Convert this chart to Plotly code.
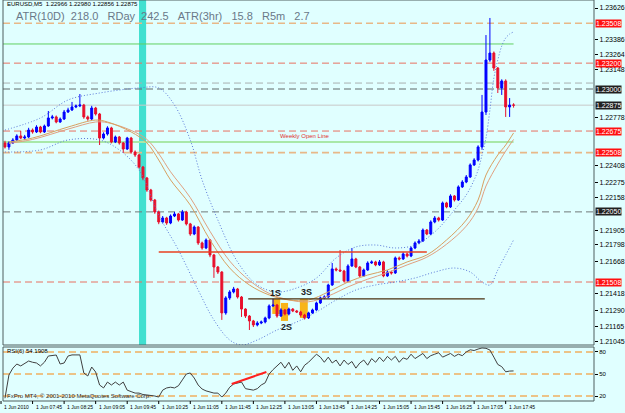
import plotly.graph_objects as go

# ---------------- data ----------------
bars = list(range(1, 131))
first_open = 1.22583
close = [1.22552,1.22583,1.22606,1.22637,1.22621,1.22629,1.22683,1.22668,1.22706,1.22668,
1.22714,1.22776,1.22784,1.22745,1.22768,1.22822,1.22838,1.22861,1.22869,1.22876,
1.22784,1.22768,1.22853,1.22807,1.22621,1.22652,1.22699,1.22590,1.22629,1.22583,
1.22536,1.22621,1.22513,1.22490,1.22397,1.22312,1.22219,1.22142,1.22049,1.21972,
1.22003,1.21964,1.22018,1.22034,1.21987,1.22049,1.21957,1.21879,1.21933,1.21810,
1.21771,1.21833,1.21717,1.21624,1.21585,1.21269,1.21385,1.21431,1.21454,1.21392,
1.21299,1.21245,1.21207,1.21176,1.21191,1.21199,1.21230,1.21323,1.21330,1.21245,
1.21292,1.21261,1.21299,1.21284,1.21276,1.21253,1.21230,1.21269,1.21292,1.21346,
1.21385,1.21392,1.21485,1.21609,1.21601,1.21593,1.21516,1.21632,1.21686,1.21624,
1.21555,1.21601,1.21655,1.21663,1.21640,1.21663,1.21555,1.21585,1.21578,1.21694,
1.21686,1.21725,1.21709,1.21771,1.21810,1.21825,1.21910,1.21879,1.21972,1.22003,
1.21987,1.22119,1.22088,1.22173,1.22142,1.22243,1.22281,1.22320,1.22413,1.22451,
1.22552,1.22822,1.23224,1.23278,1.23162,1.23008,1.23062,1.22861,1.22876,1.22875]
high = [1.22600,1.22595,1.22620,1.22650,1.22676,1.22645,1.22700,1.22695,1.22720,1.22715,
1.22725,1.22830,1.22800,1.22795,1.22780,1.22838,1.22855,1.22900,1.22880,1.22961,
1.22885,1.22795,1.22870,1.22862,1.22815,1.22665,1.22712,1.22708,1.22640,1.22637,
1.22590,1.22630,1.22630,1.22525,1.22498,1.22405,1.22320,1.22228,1.22150,1.22060,
1.22018,1.22012,1.22030,1.22050,1.22042,1.22065,1.22058,1.21965,1.21945,1.21940,
1.21820,1.21845,1.21840,1.21725,1.21632,1.21592,1.21398,1.21445,1.21470,1.21462,
1.21400,1.21305,1.21252,1.21215,1.21205,1.21210,1.21240,1.21335,1.21378,1.21338,
1.21305,1.21300,1.21310,1.21306,1.21292,1.21285,1.21262,1.21278,1.21302,1.21356,
1.21395,1.21405,1.21495,1.21655,1.21620,1.21755,1.21602,1.21645,1.21771,1.21695,
1.21632,1.21612,1.21668,1.21675,1.21672,1.21678,1.21672,1.21598,1.21596,1.21705,
1.21705,1.21738,1.21735,1.21782,1.21822,1.21840,1.21922,1.21918,1.21985,1.22018,
1.22012,1.22130,1.22128,1.22186,1.22180,1.22255,1.22295,1.22335,1.22425,1.22465,
1.22565,1.22954,1.23417,1.23549,1.23290,1.23170,1.23075,1.23075,1.22930,1.22890]
low = [1.22540,1.22530,1.22575,1.22598,1.22612,1.22605,1.22620,1.22655,1.22660,1.22658,
1.22660,1.22708,1.22765,1.22735,1.22738,1.22760,1.22815,1.22830,1.22852,1.22860,
1.22770,1.22755,1.22760,1.22795,1.22567,1.22610,1.22640,1.22580,1.22582,1.22570,
1.22505,1.22528,1.22500,1.22475,1.22385,1.22295,1.22205,1.22130,1.22035,1.21955,
1.21960,1.21950,1.21955,1.22010,1.21975,1.21980,1.21945,1.21865,1.21870,1.21795,
1.21758,1.21762,1.21700,1.21540,1.21570,1.21215,1.21255,1.21370,1.21420,1.21380,
1.21238,1.21230,1.21137,1.21160,1.21165,1.21182,1.21188,1.21220,1.21315,1.21232,
1.21238,1.21250,1.21250,1.21275,1.21268,1.21240,1.21218,1.21222,1.21262,1.21285,
1.21338,1.21375,1.21385,1.21478,1.21590,1.21585,1.21505,1.21510,1.21625,1.21615,
1.21545,1.21548,1.21594,1.21648,1.21630,1.21632,1.21545,1.21548,1.21565,1.21570,
1.21675,1.21678,1.21698,1.21700,1.21762,1.21800,1.21818,1.21870,1.21870,1.21962,
1.21975,1.21980,1.22078,1.22080,1.22130,1.22135,1.22235,1.22272,1.22312,1.22405,
1.22440,1.22530,1.22799,1.23210,1.23140,1.22969,1.22954,1.22784,1.22784,1.22856]
open_ = [first_open] + close[:-1]

bb_up_bar = [1,10,17,25,35,40,44,48,51,55,60,65,70,75,80,85,90,95,100,105,110,115,118,120,121,122,123,124,125,126,127,128,129,130]
bb_up = [1.22683,1.22776,1.22915,1.22969,1.23008,1.23008,1.22876,1.22606,1.22297,1.21987,1.21663,1.21485,
         1.21431,1.21462,1.21539,1.21694,1.21779,1.21794,1.21771,1.21794,1.21895,1.22065,1.22181,1.22297,
         1.22374,1.22490,1.22621,1.22838,1.23085,1.23224,1.23332,1.23394,1.23425,1.23441]
bb_lo_bar = [1,10,17,25,30,35,40,45,50,54,58,61,65,70,75,80,85,90,95,100,105,110,115,119,122,124,126,128,130]
bb_lo = [1.22513,1.22529,1.22606,1.22606,1.22529,1.22374,1.22026,1.21755,1.21446,1.21214,1.21060,1.21021,
         1.21060,1.21137,1.21199,1.21276,1.21369,1.21446,1.21485,1.21508,1.21539,1.21585,1.21616,1.21585,
         1.21508,1.21485,1.21601,1.21717,1.21833]
ma_bar = [2,8,17,24,27,33,37,40,43,48,53,58,63,68,73,78,83,88,93,98,103,108,113,118,121,123,126,128,130]
ma_fast = [1.22590,1.22621,1.22706,1.22760,1.22745,1.22668,1.22583,1.22451,1.22297,1.22103,1.21833,1.21616,
           1.21485,1.21408,1.21369,1.21369,1.21431,1.21508,1.21562,1.21601,1.21663,1.21717,1.21833,1.21987,
           1.22142,1.22335,1.22490,1.22567,1.22660]
ma_slow = [1.22580,1.22610,1.22690,1.22745,1.22740,1.22680,1.22610,1.22500,1.22360,1.22160,1.21900,1.21670,
           1.21520,1.21420,1.21370,1.21355,1.21400,1.21470,1.21530,1.21580,1.21640,1.21700,1.21800,1.21940,
           1.22080,1.22250,1.22420,1.22520,1.22610]

rsi = [17,48.6,58,63.6,61,64,67.7,66,65,61,
66,74.5,75,75.9,63.6,65,74.5,76,76,76,
51.4,47.3,59.5,52.7,35,31,39,35,39,35,
39,28,26,24,24,22,21.4,21,20,18.6,
28,31,32,31,34,42,50,51.4,44.5,35,
29.5,27,25,24,24,18.6,24,32,36.4,38,
39,30,29,28,30,35,38,50,56,61,
66,58,66,55,61,53,62,66,72,77,
73,66,73,65,69,61,69,63,67,58,
65,69,62,71,66,73,67,74,69,74,
66,72,70,77,71,74,78,71,75,77,
79,73,76,78,74,77,75,80,83,82,
84,85.5,85,82.7,73,63,60,53,54,54.19]
rsi_levels = [80, 50, 20]
rsi_div_bar = [58.5, 67.3]
rsi_div = [36.4, 52.7]

levels = [1.23508, 1.23200, 1.23046, 1.23000, 1.22875, 1.22675, 1.22508, 1.22050, 1.21508]
trend_levels = [1.23348, 1.22590]
support_red = 1.21740
support_red_bars = [40, 108]
support_dark = 1.21377
support_dark_bars = [62.7, 122.7]
session_boxes = [(68.8, 70.8, 1.21261, 1.21377), (71.0, 72.8, 1.21207, 1.21346), (75.8, 77.8, 1.21230, 1.21377)]
session_labels = [("1S", 69.5, 1.21423), ("2S", 72.5, 1.21160), ("3S", 77.6, 1.21430)]
cyan_bars = [35.0, 36.8]

price_ticks = [1.23626, 1.23386, 1.23264, 1.23148, 1.22778,
               1.22408, 1.22275, 1.22158, 1.21905, 1.21798, 1.21668, 1.21418, 1.21290,
               1.21165, 1.21045]
red_tags = [1.23508, 1.23200, 1.22675, 1.22508, 1.21508]
dark_tags = [1.23000, 1.22875, 1.22050]
time_tick_bars = [0, 8, 16, 24, 32, 40, 48, 56, 64, 72, 80, 88, 96, 104, 112, 120, 128]
time_tick_labels = ["1 Jun 2010", "1 Jun 07:45", "1 Jun 08:25", "1 Jun 09:05", "1 Jun 09:45", "1 Jun 10:25",
                    "1 Jun 11:05", "1 Jun 11:45", "1 Jun 12:25", "1 Jun 13:05", "1 Jun 13:45", "1 Jun 14:25",
                    "1 Jun 15:05", "1 Jun 15:45", "1 Jun 16:25", "1 Jun 17:05", "1 Jun 17:45"]

# ---------------- layout helpers ----------------
W, H = 625, 413
ML, MR, MT, MB = 3, 27, 0, 12
PW, PH = W - ML - MR, H - MT - MB
X_RANGE = [0.5, 150.4]
def px(x): return (x - ML) / PW
def py(y): return 1 - (y - MT) / PH
def bar_paper(b): return (b - X_RANGE[0]) / (X_RANGE[1] - X_RANGE[0])

BG = "#E0FFFF"
FONT = "Liberation Sans"
main_dom = [py(345), 1]
rsi_dom = [0, py(347)]

fig = go.Figure()

fig.add_trace(go.Candlestick(
    x=bars, open=open_, high=high, low=low, close=close,
    increasing=dict(line=dict(color="#0000FF", width=1), fillcolor="#0000FF"),
    decreasing=dict(line=dict(color="#E8102C", width=1), fillcolor="#E8102C"),
    whiskerwidth=0, hoverinfo="skip", xaxis="x", yaxis="y", showlegend=False))

band_line = dict(color="#5A78D8", width=1, dash="1px,2px", shape="spline")
fig.add_trace(go.Scatter(x=bb_up_bar, y=bb_up, mode="lines", line=band_line,
                         xaxis="x", yaxis="y", showlegend=False, hoverinfo="skip"))
fig.add_trace(go.Scatter(x=bb_lo_bar, y=bb_lo, mode="lines", line=band_line,
                         xaxis="x", yaxis="y", showlegend=False, hoverinfo="skip"))
fig.add_trace(go.Scatter(x=ma_bar, y=ma_slow, mode="lines", line=dict(color="#E0A080", width=1, shape="spline"),
                         xaxis="x", yaxis="y", showlegend=False, hoverinfo="skip"))
fig.add_trace(go.Scatter(x=ma_bar, y=ma_fast, mode="lines", line=dict(color="#D8A060", width=1, shape="spline"),
                         xaxis="x", yaxis="y", showlegend=False, hoverinfo="skip"))

fig.add_trace(go.Scatter(x=bars, y=rsi, mode="lines", line=dict(color="#404040", width=1),
                         xaxis="x", yaxis="y2", showlegend=False, hoverinfo="skip"))
fig.add_trace(go.Scatter(x=rsi_div_bar, y=rsi_div, mode="lines", line=dict(color="#FF2020", width=2),
                         xaxis="x", yaxis="y2", showlegend=False, hoverinfo="skip"))

shapes = []
shapes.append(dict(type="rect", xref="x", yref="y domain", x0=cyan_bars[0], x1=cyan_bars[1], y0=0, y1=1,
                   fillcolor="#40E0D0", line=dict(width=0), layer="below"))
for x0, x1, y0, y1 in session_boxes:
    shapes.append(dict(type="rect", xref="x", yref="y", x0=x0, x1=x1, y0=y0, y1=y1,
                       fillcolor="#F8B418", line=dict(width=0), layer="below"))

level_style = {
    1.23508: ("#E8B888", "7px,4px", 1.6),
    1.23200: ("#E87060", "7px,4px", 1),
    1.23046: ("#A8B0B0", "7px,4px", 1),
    1.23000: ("#606868", "7px,4px", 1),
    1.22875: ("#C8C8C8", "solid", 1),
    1.22675: ("#E87060", "7px,4px", 1),
    1.22508: ("#E8B888", "7px,4px", 1.6),
    1.22050: ("#707878", "7px,4px", 1),
    1.21508: ("#E87060", "7px,4px", 1),
}
for lv in levels:
    c, d, w = level_style[lv]
    shapes.append(dict(type="line", xref="paper", yref="y", x0=0, x1=1, y0=lv, y1=lv,
                       line=dict(color=c, dash=d, width=w), layer="below"))
shapes.append(dict(type="line", xref="x", yref="y", x0=0.5, x1=130, y0=trend_levels[0], y1=trend_levels[0],
                   line=dict(color="#60D060", width=1), layer="below"))
shapes.append(dict(type="line", xref="x", yref="y", x0=0.5, x1=130, y0=trend_levels[1], y1=trend_levels[1],
                   line=dict(color="#A8E8A8", width=2), layer="below"))
shapes.append(dict(type="line", xref="x", yref="y", x0=support_red_bars[0], x1=support_red_bars[1],
                   y0=support_red, y1=support_red, line=dict(color="#E84020", width=1.3)))
shapes.append(dict(type="line", xref="x", yref="y", x0=support_dark_bars[0], x1=support_dark_bars[1],
                   y0=support_dark, y1=support_dark, line=dict(color="#4A3010", width=1.3)))
for lv in rsi_levels:
    shapes.append(dict(type="line", xref="paper", yref="y2", x0=0, x1=1, y0=lv, y1=lv,
                       line=dict(color="#F0B060", dash="7px,4px", width=1.5), layer="below"))
for dom in (main_dom, rsi_dom):
    shapes.append(dict(type="rect", xref="paper", yref="paper", x0=0, x1=1, y0=dom[0], y1=dom[1],
                       line=dict(color="#4E5E5E", width=1), fillcolor="rgba(0,0,0,0)"))
# time-axis tick marks (incl. the first one left of the range)
for b in time_tick_bars:
    shapes.append(dict(type="line", xref="paper", yref="paper", x0=bar_paper(b), x1=bar_paper(b),
                       y0=py(401), y1=py(404), line=dict(color="#000000", width=1)))

ann = []
ann.append(dict(xref="paper", yref="paper", x=px(5), y=py(4), xanchor="left", yanchor="middle", showarrow=False,
                text="EURUSD,M5  1.22966 1.22980 1.22856 1.22875", font=dict(family=FONT, size=6, color="#000000")))
ann.append(dict(xref="paper", yref="paper", x=px(14), y=py(16), xanchor="left", yanchor="middle", showarrow=False,
                text="ATR(10D)\u00a0\u00a0218.0\u00a0\u00a0\u00a0RDay\u00a0\u00a0242.5\u00a0\u00a0\u00a0ATR(3hr)\u00a0\u00a0\u00a015.8\u00a0\u00a0\u00a0R5m\u00a0\u00a0\u00a02.7",
                font=dict(family=FONT, size=11, color="#6A7888")))
ann.append(dict(xref="x", yref="y", x=77, y=1.22638, xanchor="center", yanchor="middle", showarrow=False,
                text="Weekly Open Line", font=dict(family=FONT, size=6, color="#E03030")))
for t, xb, yp in session_labels:
    ann.append(dict(xref="x", yref="y", x=xb, y=yp, xanchor="center", yanchor="middle", showarrow=False,
                    text="<b>%s</b>" % t, font=dict(family=FONT, size=9, color="#202020")))
ann.append(dict(xref="paper", yref="paper", x=px(5), y=py(351), xanchor="left", yanchor="middle", showarrow=False,
                text="RSI(6) 54.1908", font=dict(family=FONT, size=6, color="#000000")))
ann.append(dict(xref="paper", yref="paper", x=px(5), y=py(396), xanchor="left", yanchor="middle", showarrow=False,
                text="FxPro MT4, \u00a9 2001-2010 MetaQuotes Software Corp.", font=dict(family=FONT, size=6, color="#303030")))
for b, t in zip(time_tick_bars, time_tick_labels):
    ann.append(dict(xref="paper", yref="paper", x=bar_paper(b), y=py(406.5), xanchor="left", xshift=1,
                    yanchor="middle", showarrow=False, text=t, font=dict(family=FONT, size=5, color="#000000")))
for v in red_tags:
    ann.append(dict(xref="paper", yref="y", x=1, y=v, xanchor="left", xshift=1, yanchor="middle", showarrow=False,
                    text="%.5f" % v, bgcolor="#FF1010", borderpad=0, font=dict(family=FONT, size=7, color="#FFFFFF")))
for v in dark_tags:
    ann.append(dict(xref="paper", yref="y", x=1, y=v, xanchor="left", xshift=1, yanchor="middle", showarrow=False,
                    text="%.5f" % v, bgcolor="#202020", borderpad=0, font=dict(family=FONT, size=7, color="#FFFFFF")))

fig.update_layout(
    width=W, height=H, margin=dict(l=ML, r=MR, t=MT, b=MB),
    paper_bgcolor=BG, plot_bgcolor=BG, showlegend=False,
    shapes=shapes, annotations=ann,
    xaxis=dict(domain=[0, 1], anchor="y2", range=X_RANGE, showgrid=False, zeroline=False,
               showticklabels=False, ticks="", rangeslider=dict(visible=False), showline=False),
    yaxis=dict(domain=main_dom, anchor="x", range=[1.21021, 1.23688], side="right", showgrid=False, zeroline=False,
               tickvals=price_ticks, ticktext=["%.5f" % v for v in price_ticks], ticks="outside", ticklen=3,
               tickcolor="#000000", tickfont=dict(family=FONT, size=7, color="#000000"), showline=False),
    yaxis2=dict(domain=rsi_dom, anchor="x", range=[13.2, 86.8], side="right", showgrid=False, zeroline=False,
                tickvals=rsi_levels, ticktext=[str(v) for v in rsi_levels], ticks="outside", ticklen=3,
                tickcolor="#000000", tickfont=dict(family=FONT, size=6, color="#000000"), showline=False),
)

fig.write_html("out.html")
